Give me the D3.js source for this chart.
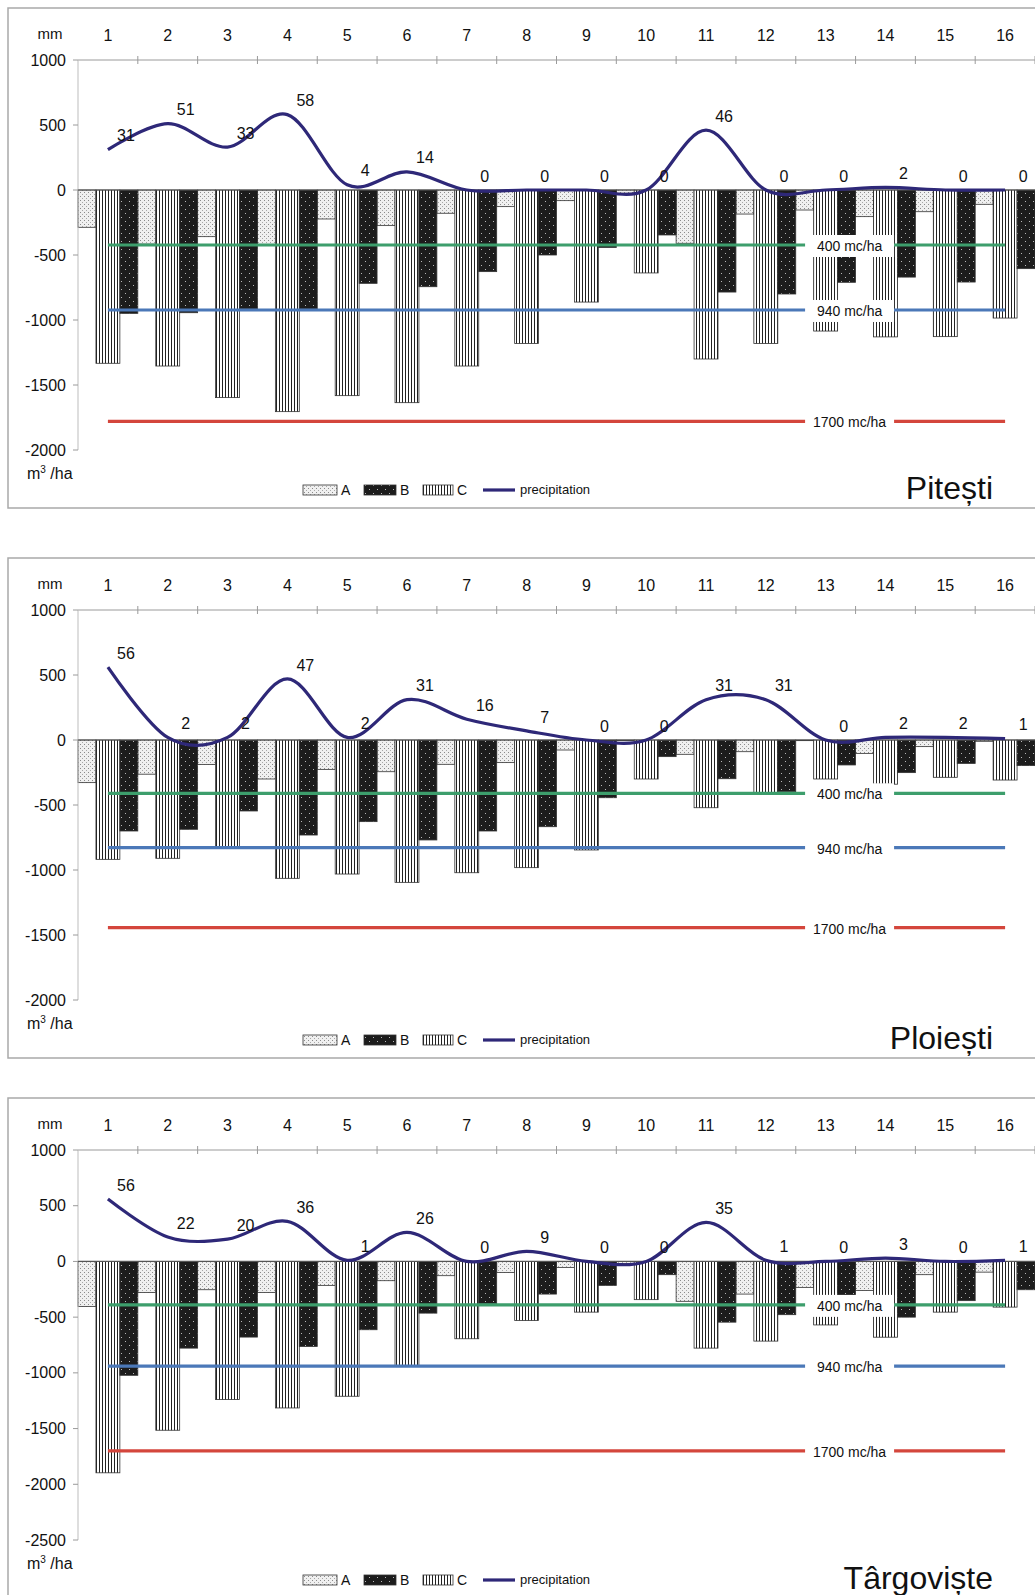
<!DOCTYPE html>
<html>
<head>
<meta charset="utf-8">
<script src="https://cdn.jsdelivr.net/npm/d3@7"></script>
<style>
  body { margin: 0; background: #fff; }
  svg { display: block; font-family: 'Liberation Sans', Arial, sans-serif; }
</style>
</head>
<body>
<svg id="chart"></svg>
<script>
// categories on the top axis
const categories = ['1', '2', '3', '4', '5', '6', '7', '8', '9', '10', '11', '12', '13', '14', '15', '16'];
const stations = ['Pitești', 'Ploiești', 'Târgoviște'];

// Pitești, m3/ha
const pitestiA = [-287, -416, -359, -420, -223, -274, -179, -128, -82, -25, -410, -185, -154, -205, -167, -110];
const pitestiB = [-949, -944, -915, -915, -718, -744, -628, -500, -442, -346, -785, -800, -710, -670, -708, -605];
const pitestiC = [-1333, -1354, -1597, -1705, -1582, -1636, -1354, -1180, -862, -638, -1300, -1180, -1085, -1130, -1128, -985];
const pitestiRain = [31, 51, 33, 58, 4, 14, 0, 0, 0, 0, 46, 0, 0, 2, 0, 0];
const pitestiThresholds = [-423, -923, -1780];

// Ploiești, m3/ha
const ploiestiA = [-328, -263, -188, -300, -226, -244, -187, -174, -77, -5, -110, -90, -5, -103, -51, -10];
const ploiestiB = [-700, -687, -546, -731, -628, -769, -700, -667, -444, -128, -298, -397, -192, -251, -180, -197];
const ploiestiC = [-918, -910, -821, -1064, -1031, -1095, -1021, -982, -846, -300, -521, -410, -300, -340, -287, -308];
const ploiestiRain = [56, 2, 2, 47, 2, 31, 16, 7, 0, 0, 31, 31, 0, 2, 2, 1];
const ploiestiThresholds = [-410, -828, -1444];

// Târgoviște, m3/ha
const targovisteA = [-405, -278, -254, -278, -215, -173, -128, -99, -54, -20, -358, -293, -233, -260, -119, -96];
const targovisteB = [-1022, -778, -679, -763, -613, -464, -379, -293, -215, -119, -545, -478, -343, -500, -352, -254];
const targovisteC = [-1897, -1515, -1240, -1315, -1210, -933, -694, -530, -455, -343, -778, -715, -570, -680, -455, -410];
const targovisteRain = [56, 22, 20, 36, 1, 26, 0, 9, 0, 0, 35, 1, 0, 3, 0, 1];
const targovisteThresholds = [-390, -940, -1700];

const thresholdLabels = ['400 mc/ha', '940 mc/ha', '1700  mc/ha'];
const yTicks = [1000, 500, 0, -500, -1000, -1500, -2000];
const yTicksLong = [1000, 500, 0, -500, -1000, -1500, -2000, -2500];
const legendItems = ['A', 'B', 'C', 'precipitation'];

const W = 1035, H = 1595;
const left = 78, right = 1035, plotH = 390;
const lineColors = ['#3d9e6c', '#4b78b8', '#d4463c'];
const rainColor = '#2e2878';

const panels = [
  { name: stations[0], A: pitestiA, B: pitestiB, C: pitestiC, rain: pitestiRain, thr: pitestiThresholds, ticks: yTicks, top: 60 },
  { name: stations[1], A: ploiestiA, B: ploiestiB, C: ploiestiC, rain: ploiestiRain, thr: ploiestiThresholds, ticks: yTicks, top: 610 },
  { name: stations[2], A: targovisteA, B: targovisteB, C: targovisteC, rain: targovisteRain, thr: targovisteThresholds, ticks: yTicksLong, top: 1150 }
];

const svg = d3.select('#chart').attr('width', W).attr('height', H);

// fill patterns for the three series
const defs = svg.append('defs');
const pA = defs.append('pattern').attr('id', 'patA').attr('patternUnits', 'userSpaceOnUse')
  .attr('width', 4).attr('height', 4);
pA.append('rect').attr('width', 4).attr('height', 4).attr('fill', '#f0f0f0');
pA.append('rect').attr('x', 0).attr('y', 0).attr('width', 1).attr('height', 1).attr('fill', '#8a8a8a');
pA.append('rect').attr('x', 2).attr('y', 2).attr('width', 1).attr('height', 1).attr('fill', '#a8a8a8');

const pB = defs.append('pattern').attr('id', 'patB').attr('patternUnits', 'userSpaceOnUse')
  .attr('width', 8).attr('height', 8);
pB.append('rect').attr('width', 8).attr('height', 8).attr('fill', '#1c1c1c');
pB.append('rect').attr('x', 1).attr('y', 1).attr('width', 1).attr('height', 1).attr('fill', '#b8b8b8');
pB.append('rect').attr('x', 5).attr('y', 5).attr('width', 1).attr('height', 1).attr('fill', '#b8b8b8');

const pC = defs.append('pattern').attr('id', 'patC').attr('patternUnits', 'userSpaceOnUse')
  .attr('width', 3).attr('height', 3);
pC.append('rect').attr('width', 3).attr('height', 3).attr('fill', '#fff');
pC.append('rect').attr('x', 0).attr('width', 1).attr('height', 3).attr('fill', '#222');

const fills = { A: 'url(#patA)', B: 'url(#patB)', C: 'url(#patC)' };
// position of each series inside a category band (fractions)
const slots = { A: [0, 0.3], C: [0.3, 0.7], B: [0.7, 1] };

const x = d3.scaleBand().domain(categories).range([left, right]).padding(0);
const bw = x.bandwidth();

panels.forEach(p => {
  const y = d3.scaleLinear().domain([d3.min(p.ticks), 1000]).range([p.top + plotH, p.top]);
  const g = svg.append('g');

  // frame
  g.append('rect')
    .attr('x', 8).attr('y', p.top - 52)
    .attr('width', W + 10).attr('height', plotH + 110)
    .attr('fill', 'none').attr('stroke', '#a9a9a9').attr('stroke-width', 1.5);

  // bars
  ['A', 'C', 'B'].forEach(key => {
    g.selectAll('.bar' + key)
      .data(p[key])
      .enter()
      .append('rect')
      .attr('x', (d, i) => x(categories[i]) + slots[key][0] * bw)
      .attr('y', y(0))
      .attr('width', (slots[key][1] - slots[key][0]) * bw)
      .attr('height', d => y(d) - y(0))
      .attr('fill', fills[key])
      .attr('stroke', '#333')
      .attr('stroke-width', 0.8);
  });

  // top category axis
  g.append('line')
    .attr('x1', left).attr('x2', right).attr('y1', y(1000)).attr('y2', y(1000))
    .attr('stroke', '#9a9a9a').attr('stroke-width', 1);
  g.selectAll('.xtick')
    .data(categories)
    .enter()
    .append('line')
    .attr('x1', d => x(d) + bw).attr('x2', d => x(d) + bw)
    .attr('y1', y(1000) - 4).attr('y2', y(1000) + 4)
    .attr('stroke', '#9a9a9a');
  g.selectAll('.xlab')
    .data(categories)
    .enter()
    .append('text')
    .attr('x', d => x(d) + bw / 2)
    .attr('y', y(1000) - 25)
    .attr('dy', '0.35em')
    .attr('text-anchor', 'middle')
    .attr('font-size', 16)
    .attr('fill', '#111')
    .text(d => d);
  g.append('text')
    .attr('x', 50).attr('y', y(1000) - 26).attr('dy', '0.35em')
    .attr('text-anchor', 'middle').attr('font-size', 15).attr('fill', '#111')
    .text('mm');

  // left value axis
  g.append('line')
    .attr('x1', left).attr('x2', left).attr('y1', y(1000)).attr('y2', y(d3.min(p.ticks)))
    .attr('stroke', '#bdbdbd').attr('stroke-width', 1);
  g.selectAll('.ytick')
    .data(p.ticks)
    .enter()
    .append('line')
    .attr('x1', left - 5).attr('x2', left)
    .attr('y1', d => y(d)).attr('y2', d => y(d))
    .attr('stroke', '#9a9a9a');
  g.selectAll('.ylab')
    .data(p.ticks)
    .enter()
    .append('text')
    .attr('x', 66)
    .attr('y', d => y(d))
    .attr('dy', '0.35em')
    .attr('text-anchor', 'end')
    .attr('font-size', 16)
    .attr('fill', '#111')
    .text(d => d);
  const unit = g.append('text')
    .attr('x', 27).attr('y', y(d3.min(p.ticks)) + 23).attr('dy', '0.35em')
    .attr('font-size', 16).attr('fill', '#111');
  unit.append('tspan').text('m');
  unit.append('tspan').attr('font-size', 10).attr('dy', '-6').text('3');
  unit.append('tspan').attr('dy', '6').text(' /ha');

  // zero line
  g.append('line')
    .attr('x1', left).attr('x2', right).attr('y1', y(0)).attr('y2', y(0))
    .attr('stroke', '#555').attr('stroke-width', 1.2);

  // threshold lines with their labels
  const x0 = x(categories[0]) + bw / 2;
  const x1 = x(categories[categories.length - 1]) + bw / 2;
  const boxC = x('13') + 0.9 * bw;
  p.thr.forEach((t, i) => {
    g.append('line')
      .attr('x1', x0).attr('x2', x1).attr('y1', y(t)).attr('y2', y(t))
      .attr('stroke', lineColors[i]).attr('stroke-width', 3.2);
    g.append('rect')
      .attr('x', boxC - 44.5).attr('y', y(t) - 10)
      .attr('width', 89).attr('height', 22)
      .attr('fill', '#fff');
    g.append('text')
      .attr('x', boxC).attr('y', y(t) + 1).attr('dy', '0.35em')
      .attr('text-anchor', 'middle').attr('font-size', 14).attr('fill', '#111')
      .text(thresholdLabels[i]);
  });

  // precipitation (mm -> x10 on the m3/ha axis)
  const line = d3.line()
    .x((d, i) => x(categories[i]) + bw / 2)
    .y(d => y(d * 10))
    .curve(d3.curveCatmullRom.alpha(0));
  g.append('path')
    .datum(p.rain)
    .attr('d', line)
    .attr('fill', 'none')
    .attr('stroke', rainColor)
    .attr('stroke-width', 3.2);
  g.selectAll('.rlab')
    .data(p.rain)
    .enter()
    .append('text')
    .attr('x', (d, i) => x(categories[i]) + bw / 2 + 18)
    .attr('y', d => y(d * 10) - 14)
    .attr('dy', '0.35em')
    .attr('text-anchor', 'middle')
    .attr('font-size', 16)
    .attr('fill', '#111')
    .text(d => d);

  // legend
  const ly = y(d3.min(p.ticks)) + 40;
  const sw = [[303, 337, 341], [364, 396, 400], [423, 453, 457]];
  ['A', 'B', 'C'].forEach((k, i) => {
    g.append('rect')
      .attr('x', sw[i][0]).attr('y', ly - 5).attr('width', sw[i][1] - sw[i][0]).attr('height', 10)
      .attr('fill', fills[k]).attr('stroke', '#333').attr('stroke-width', 0.8);
    g.append('text')
      .attr('x', sw[i][2]).attr('y', ly).attr('dy', '0.35em')
      .attr('font-size', 14).attr('fill', '#111').text(legendItems[i]);
  });
  g.append('line')
    .attr('x1', 483).attr('x2', 515).attr('y1', ly).attr('y2', ly)
    .attr('stroke', rainColor).attr('stroke-width', 3.2);
  g.append('text')
    .attr('x', 520).attr('y', ly - 1).attr('dy', '0.35em')
    .attr('font-size', 13).attr('fill', '#111').text(legendItems[3]);

  // station name
  g.append('text')
    .attr('x', 993).attr('y', ly - 2).attr('dy', '0.35em')
    .attr('text-anchor', 'end').attr('font-size', 32).attr('fill', '#111')
    .text(p.name);
});
</script>
</body>
</html>
